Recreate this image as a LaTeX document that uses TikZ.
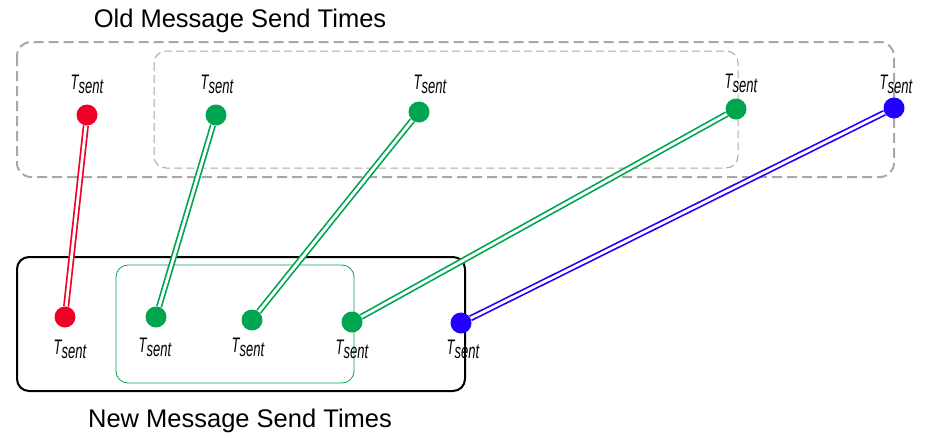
\documentclass[tikz,border=0pt]{standalone}
\usepackage{fontspec}
\setmainfont{Liberation Sans}
\newfontfamily\narrowit[FakeStretch=0.62]{Liberation Sans Italic}
\definecolor{sred}{HTML}{EE0028}
\definecolor{sgreen}{HTML}{00A550}
\definecolor{sblue}{HTML}{2200FF}
\definecolor{dashgray}{HTML}{A8A8A8}
\newcommand{\tsent}{{\narrowit\fontsize{21}{23}\selectfont T\raisebox{-4pt}{sent}}}
\tikzset{
  dot/.style={circle, fill=#1, inner sep=0pt, minimum size=21pt},
  conn/.style={draw=#1, line width=1.7pt, double=white, double distance=2.8pt},
  title/.style={font=\fontsize{25.5}{29}\selectfont, inner sep=0pt},
  lab/.style={inner sep=0pt}
}
\begin{document}
\begin{tikzpicture}[x=1pt, y=-1pt]
\useasboundingbox (0,0) rectangle (926,437);
% group frames
\draw[dashgray, line width=2pt, dash pattern=on 10pt off 5pt, rounded corners=14pt]
  (17,42) rectangle (894,177);
\draw[dashgray, line width=1pt, dash pattern=on 8pt off 4pt, rounded corners=12pt]
  (154,51) rectangle (738,168);
\draw[black, line width=2pt, rounded corners=12pt] (17,257) rectangle (465,391);
\draw[sgreen, line width=0.8pt, rounded corners=12pt] (116,265) rectangle (354,383);
% captions
\node[title] (oldcap) at (240,21) {Old Message Send Times};
\node[title] (newcap) at (240,421) {New Message Send Times};
% old send times
\node[dot=sred]   (o1) at (87,115) {};
\node[dot=sgreen] (o2) at (216,115) {};
\node[dot=sgreen] (o3) at (419,112) {};
\node[dot=sgreen] (o4) at (736,109) {};
\node[dot=sblue]  (o5) at (894,108) {};
% new send times
\node[dot=sred]   (n1) at (65,317) {};
\node[dot=sgreen] (n2) at (156,317) {};
\node[dot=sgreen] (n3) at (252,320) {};
\node[dot=sgreen] (n4) at (352,322) {};
\node[dot=sblue]  (n5) at (461,323) {};
% labels
\node[lab] (lo1) at (87,84) {\tsent};
\node[lab] (lo2) at (217,84) {\tsent};
\node[lab] (lo3) at (430,84) {\tsent};
\node[lab] (lo4) at (741,83) {\tsent};
\node[lab] (lo5) at (896,84) {\tsent};
\node[lab] (ln1) at (70,349) {\tsent};
\node[lab] (ln2) at (155,347) {\tsent};
\node[lab] (ln3) at (248,347) {\tsent};
\node[lab] (ln4) at (352,349) {\tsent};
\node[lab] (ln5) at (463,349) {\tsent};
% links
\draw[conn=sred]   (o1) -- (n1);
\draw[conn=sgreen] (o2) -- (n2);
\draw[conn=sgreen] (o3) -- (n3);
\draw[conn=sgreen] (o4) -- (n4);
\draw[conn=sblue]  (o5) -- (n5);
\end{tikzpicture}
\end{document}
